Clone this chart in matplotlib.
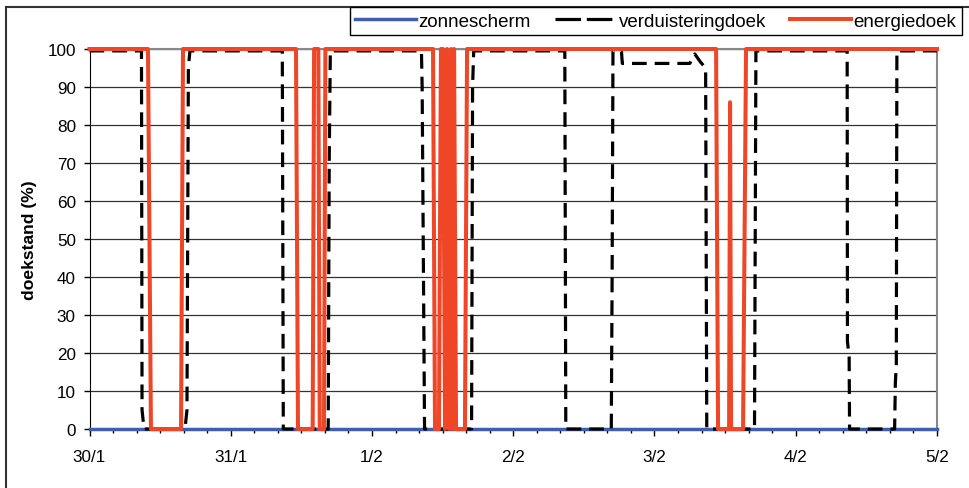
import matplotlib.pyplot as plt
from matplotlib.lines import Line2D
from matplotlib.ticker import MultipleLocator

plt.rcParams['font.family'] = ['Liberation Sans', 'DejaVu Sans']

day_labels = ["30/1", "31/1", "1/2", "2/2", "3/2", "4/2", "5/2"]

# tijd in dagen vanaf 30/1 00:00, doekstand in %
zon_t = [0.0, 6.0]
zon_v = [0, 0]

verd_t = [0.0, 0.368, 0.372, 0.386, 0.676, 0.690, 0.700, 0.711,
          1.365, 1.372, 1.690, 1.697, 1.705,
          2.350, 2.355, 2.372, 2.705, 2.712, 2.720,
          3.365, 3.372, 3.694, 3.700, 3.706, 3.766, 3.772,
          4.250, 4.285, 4.325, 4.362, 4.370, 4.708, 4.718,
          5.364, 5.366, 5.378, 5.381, 5.700, 5.705, 5.712, 5.716, 6.0]
verd_v = [99.5, 99.5, 5, 0, 0, 5, 95, 99.5,
          99.5, 0, 0, 70, 99.5,
          99.5, 90, 0, 0, 90, 99.5,
          99.5, 0, 0, 40, 99.5, 99.5, 96.2,
          96.2, 98.7, 96.6, 95, 0, 0, 99.5,
          99.5, 23, 19, 0, 0, 12, 17, 99.5, 99.5]

energ_t = [0.0, 0.414, 0.435, 0.648, 0.662,
           1.462, 1.476, 1.580, 1.590, 1.620, 1.630, 1.660, 1.670,
           2.432, 2.446, 2.474, 2.488, 2.503, 2.517, 2.531, 2.545,
           2.560, 2.574, 2.581, 2.595, 2.658, 2.673,
           4.436, 4.450, 4.528, 4.535, 4.542, 4.627, 4.648, 6.0]
energ_v = [100, 100, 0, 0, 100,
           100, 0, 0, 100, 100, 0, 0, 100,
           100, 0, 0, 100, 100, 0, 100, 0,
           100, 0, 100, 0, 0, 100,
           100, 0, 0, 86, 0, 0, 100, 100]

blue = '#3F5FAE'
red = '#EF4628'

fig = plt.figure(figsize=(9.7, 4.89), dpi=100)
ax = fig.add_axes([89.5 / 970, 1 - 430 / 489, 847.5 / 970, 380 / 489])

ax.plot(zon_t, zon_v, color=blue, lw=2.5, clip_on=False, zorder=3)
ax.plot(verd_t, verd_v, color='black', lw=2.3, dashes=(4.6, 2.5), clip_on=False, zorder=4)
ax.plot(energ_t, energ_v, color=red, lw=2.9, clip_on=False, zorder=5)

ax.set_xlim(0, 6)
ax.set_ylim(0, 100)
ax.set_xticks(range(len(day_labels)))
ax.set_xticklabels(day_labels)
ax.xaxis.set_minor_locator(MultipleLocator(1 / 6))
ax.yaxis.set_major_locator(MultipleLocator(10))

ax.tick_params(axis='x', which='major', length=5, width=1, pad=9.5, labelsize=12.3)
ax.tick_params(axis='x', which='minor', length=3, width=1)
ax.tick_params(axis='y', which='major', length=4.3, width=1, pad=5.5, labelsize=12.3)

ax.grid(axis='y', color='#333333', lw=0.9)
ax.set_axisbelow(True)
ax.spines['top'].set_color('#888888')
ax.spines['top'].set_linewidth(1.5)
ax.spines['right'].set_color('#888888')
ax.spines['right'].set_linewidth(1.5)

ax.set_ylabel('doekstand (%)', fontweight='bold', fontsize=12.6)
ax.yaxis.set_label_coords(-0.062, 0.5)

# legenda bovenaan
handles = [
    Line2D([], [], color=blue, lw=2.5),
    Line2D([], [], color='black', lw=2.3, dashes=(8, 1.8)),
    Line2D([], [], color=red, lw=2.9),
]
leg = fig.legend(handles, ['zonnescherm', 'verduisteringdoek', 'energiedoek'],
                 loc='upper right', bbox_to_anchor=(962 / 970, 1 - 8 / 489),
                 ncol=3, fontsize=13.5, handlelength=3.25, handletextpad=0.12,
                 columnspacing=1.3, borderpad=0.3, borderaxespad=0,
                 fancybox=False, framealpha=1)
leg.get_frame().set_edgecolor('black')
leg.get_frame().set_linewidth(1.0)

# rand om de grafiek
fig.add_artist(Line2D([6 / 970, 6 / 970], [0, 1 - 8 / 489], transform=fig.transFigure,
                      color='#333333', lw=1.5))
fig.add_artist(Line2D([6 / 970, 1], [1 - 8 / 489, 1 - 8 / 489], transform=fig.transFigure,
                      color='#333333', lw=1.5))

fig.savefig('out.png', dpi=100)
